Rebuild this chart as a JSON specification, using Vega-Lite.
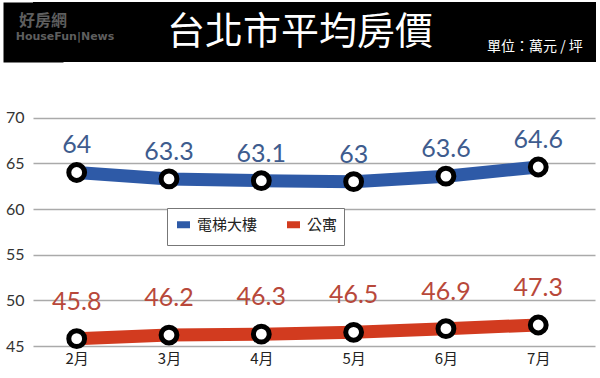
{
  "$schema": "https://vega.github.io/schema/vega-lite/v6.json",
  "padding": {"left": 4, "top": 2, "right": 4, "bottom": 0},
  "background": "white",
  "spacing": 0,
  "columns": 1,
  "config": {"view": {"stroke": null}},
  "concat": [
    {
      "width": 563,
      "height": 60,
      "view": {"fill": "black", "stroke": null},
      "data": {"values": [
        {"slot": "logo", "part": "top", "text": "好房網"},
        {"slot": "logo", "part": "bottom", "text": "HouseFun|News"},
        {"slot": "title", "part": "main", "text": "台北市平均房價"},
        {"slot": "unit", "part": "main", "text": "單位：萬元 / 坪"}
      ]},
      "encoding": {
        "x": {"field": "slot", "type": "nominal", "scale": {"type": "point", "domain": ["logo", "title", "unit"], "padding": 0.198, "align": 0.344}, "axis": null},
        "y": {"datum": 0, "type": "quantitative", "scale": {"domain": [-1, 1]},
              "axis": {"title": null, "labels": false, "ticks": false, "grid": false, "domain": true,
                       "domainColor": "black", "domainWidth": 60, "minExtent": 29, "maxExtent": 29}},
        "text": {"field": "text"}
      },
      "layer": [
        {"transform": [{"filter": "datum.slot == 'title'"}],
         "mark": {"type": "text", "color": "white", "font": "Noto Sans CJK TC", "fontSize": 38, "baseline": "middle", "dy": 1, "dx": 0}},
        {"transform": [{"filter": "datum.slot == 'unit'"}],
         "mark": {"type": "text", "color": "white", "font": "Noto Sans CJK TC", "fontSize": 14, "baseline": "middle", "dy": 15, "dx": 0}},
        {"transform": [{"filter": "datum.part == 'top'"}],
         "mark": {"type": "text", "color": "#5e5e5e", "font": "Noto Sans CJK TC", "fontWeight": "bold", "fontSize": 16, "baseline": "middle", "dy": -11, "dx": -22}},
        {"transform": [{"filter": "datum.part == 'bottom'"}],
         "mark": {"type": "text", "color": "#5e5e5e", "font": "DejaVu Sans", "fontWeight": "bold", "fontSize": 11, "baseline": "middle", "dy": 5, "dx": 0}}
      ]
    },
    {
      "width": 562,
      "height": 284,
      "data": {"values": [
        {"month": "2月", "series": "電梯大樓", "value": 64},
        {"month": "3月", "series": "電梯大樓", "value": 63.3},
        {"month": "4月", "series": "電梯大樓", "value": 63.1},
        {"month": "5月", "series": "電梯大樓", "value": 63},
        {"month": "6月", "series": "電梯大樓", "value": 63.6},
        {"month": "7月", "series": "電梯大樓", "value": 64.6},
        {"month": "2月", "series": "公寓", "value": 45.8},
        {"month": "3月", "series": "公寓", "value": 46.2},
        {"month": "4月", "series": "公寓", "value": 46.3},
        {"month": "5月", "series": "公寓", "value": 46.5},
        {"month": "6月", "series": "公寓", "value": 46.9},
        {"month": "7月", "series": "公寓", "value": 47.3}
      ]},
      "encoding": {
        "x": {"field": "month", "type": "ordinal", "sort": ["2月", "3月", "4月", "5月", "6月", "7月"],
              "scale": {"type": "point", "padding": 0.544, "align": 0.435},
              "axis": {"title": null, "labelAngle": 0, "ticks": false, "domain": false, "grid": false,
                       "labelFont": "Noto Sans CJK TC", "labelFontSize": 15, "labelColor": "#222", "labelPadding": 5}},
        "y": {"field": "value", "type": "quantitative",
              "scale": {"domain": [45, 76.1], "nice": false, "zero": false},
              "axis": {"title": null, "values": [45, 50, 55, 60, 65, 70], "ticks": false, "domain": false,
                       "grid": true, "gridColor": "#aaaaaa", "gridWidth": 1.6,
                       "labelFont": "Lato", "labelFontSize": 16, "labelColor": "#333", "labelPadding": 9,
                       "minExtent": 29, "maxExtent": 29}}
      },
      "layer": [
        {"mark": {"type": "line", "strokeWidth": 13, "strokeCap": "butt"},
         "encoding": {
           "color": {"field": "series", "type": "nominal",
                     "scale": {"domain": ["電梯大樓", "公寓"], "range": ["#2E5AA7", "#D23B1F"]},
                     "legend": {"title": null, "orient": "none", "legendX": 134, "legendY": 206, "direction": "horizontal",
                                "symbolType": "stroke", "symbolSize": 170, "symbolStrokeWidth": 7,
                                "labelFont": "Noto Sans CJK TC", "labelFontSize": 15, "labelColor": "#222",
                                "labelOffset": 3, "columnPadding": 14, "padding": 6,
                                "strokeColor": "#777", "fillColor": "white"}}
         }},
        {"mark": {"type": "point", "filled": true, "fill": "white", "stroke": "black", "strokeWidth": 5, "size": 250, "opacity": 1}},
        {"transform": [{"filter": "datum.series == '電梯大樓'"}],
         "mark": {"type": "text", "dy": -27, "color": "#3E5C8E", "font": "Lato", "fontSize": 25, "baseline": "middle"},
         "encoding": {"text": {"field": "value", "type": "quantitative"}}},
        {"transform": [{"filter": "datum.series == '公寓'"}],
         "mark": {"type": "text", "dy": -37, "color": "#B8483A", "font": "Lato", "fontSize": 25, "baseline": "middle"},
         "encoding": {"text": {"field": "value", "type": "quantitative"}}}
      ]
    }
  ]
}
